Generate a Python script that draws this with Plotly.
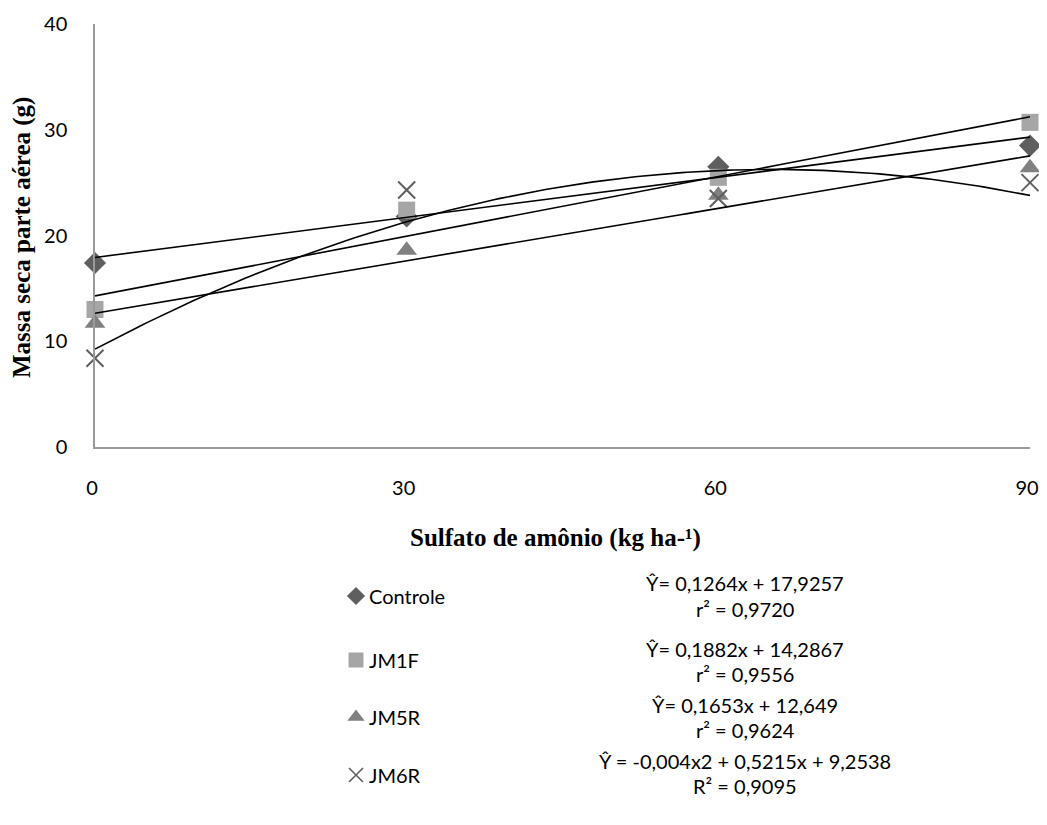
import numpy as np
import plotly.graph_objects as go

# ---- data ----
doses = [0, 30, 60, 90]
controle = [17.4, 21.8, 26.5, 28.5]
jm1f = [13.0, 22.4, 25.5, 30.7]
jm5r = [11.7, 18.6, 23.8, 26.4]
jm6r = [8.4, 24.3, 23.5, 25.0]

series_names = ["Controle", "JM1F", "JM5R", "JM6R"]
# trend line coefficients (a2, a1, a0)
coefs = [(0.0, 0.1264, 17.9257), (0.0, 0.1882, 14.2867), (0.0, 0.1653, 12.649), (-0.004, 0.5215, 9.2538)]
equations = ["Ŷ= 0,1264x + 17,9257", "Ŷ= 0,1882x + 14,2867", "Ŷ= 0,1653x + 12,649", "Ŷ = -0,004x2 + 0,5215x + 9,2538"]
r2_labels = ["r² = 0,9720", "r² = 0,9556", "r² = 0,9624", "R² = 0,9095"]
x_ticks = [0, 30, 60, 90]
y_ticks = [0, 10, 20, 30, 40]

# ---- layout (page pixel coordinates; page body has an 8px margin) ----
OX, OY = 8, 8
W, H = 1047 - 2 * OX, 825 - 2 * OY
L, R, T, B = 95, 1030, 24, 447
FONT = "Lato"
SERIF = "Liberation Serif"
styles = [
    dict(symbol="diamond", color="#5f5f5f", size=17, line=dict(width=0)),
    dict(symbol="square", color="#a6a6a6", size=17, line=dict(width=0)),
    dict(symbol="triangle-up", color="#808080", size=18, line=dict(width=0)),
    dict(symbol="x-thin", color="#5f5f5f", size=17, line=dict(width=2, color="#5f5f5f")),
]
leg_styles = [
    dict(symbol="diamond", color="#5f5f5f", size=14, line=dict(width=0)),
    dict(symbol="square", color="#a6a6a6", size=15, line=dict(width=0)),
    dict(symbol="triangle-up", color="#808080", size=15, line=dict(width=0)),
    dict(symbol="x-thin", color="#5f5f5f", size=14, line=dict(width=1.6, color="#5f5f5f")),
]

fig = go.Figure()
all_vals = [controle, jm1f, jm5r, jm6r]
for name, vals, st in zip(series_names, all_vals, styles):
    fig.add_trace(go.Scatter(x=doses, y=vals, mode="markers", name=name, marker=st,
                             showlegend=False, cliponaxis=False))

xs = np.linspace(0, 90, 181)
for (a2, a1, a0) in coefs:
    fig.add_trace(go.Scatter(x=xs, y=a2 * xs**2 + a1 * xs + a0, mode="lines",
                             line=dict(color="black", width=1.6), showlegend=False,
                             hoverinfo="skip"))

# legend area via helper axis (page pixel coordinates)
leg_rows = [596, 660, 717, 775]
eq_rows = [583, 649, 705, 761]
r2_rows = [609, 674, 730, 786]
for name, y, st in zip(series_names, leg_rows, leg_styles):
    fig.add_trace(go.Scatter(x=[356], y=[y], mode="markers", marker=st, xaxis="x2", yaxis="y2",
                             showlegend=False, hoverinfo="skip", cliponaxis=False))

annotations = []
for name, y in zip(series_names, leg_rows):
    annotations.append(dict(x=367, y=y, xref="x2", yref="y2", text=name, showarrow=False,
                            xanchor="left", yanchor="middle",
                            font=dict(family=FONT, size=20, color="black")))
for eq, r2, ye, yr in zip(equations, r2_labels, eq_rows, r2_rows):
    annotations.append(dict(x=745, y=ye, xref="x2", yref="y2", text=eq, showarrow=False,
                            xanchor="center", yanchor="middle",
                            font=dict(family=FONT, size=20, color="black")))
    annotations.append(dict(x=745, y=yr, xref="x2", yref="y2", text=r2, showarrow=False,
                            xanchor="center", yanchor="middle",
                            font=dict(family=FONT, size=20, color="black")))
# axis titles
annotations.append(dict(x=555, y=538, xref="x2", yref="y2", text="<b>Sulfato de amônio (kg ha-¹)</b>",
                        showarrow=False, xanchor="center", yanchor="middle",
                        font=dict(family=SERIF, size=25, color="black")))
annotations.append(dict(x=22, y=238, xref="x2", yref="y2", text="<b>Massa seca parte aérea (g)</b>",
                        showarrow=False, xanchor="center", yanchor="middle", textangle=-90,
                        font=dict(family=SERIF, size=25, color="black")))

fig.update_layout(
    width=W, height=H,
    margin=dict(l=0, r=0, t=0, b=0, autoexpand=False),
    paper_bgcolor="white", plot_bgcolor="rgba(0,0,0,0)",
    showlegend=False,
    annotations=annotations,
    xaxis=dict(range=[0, 90], domain=[(L - OX) / W, (R - OX) / W], tickvals=x_ticks,
               ticktext=[str(v) for v in x_ticks],
               showgrid=False, zeroline=False, showline=True, linecolor="#9a9a9a", linewidth=1.5,
               ticks="", ticklabelstandoff=22, ticklabelshift=-3,
               tickfont=dict(family=FONT, size=20, color="black"),
               anchor="y", automargin=False),
    yaxis=dict(range=[0, 40], domain=[(OY + H - B) / H, (OY + H - T) / H], tickvals=y_ticks,
               showgrid=False, zeroline=False, showline=True, linecolor="#9a9a9a", linewidth=1.5,
               ticks="", ticklabelstandoff=22, tickfont=dict(family=FONT, size=20, color="black"),
               anchor="x", automargin=False),
    xaxis2=dict(range=[OX, OX + W], domain=[0, 1], visible=False, anchor="y2", fixedrange=True,
                automargin=False),
    yaxis2=dict(range=[OY + H, OY], domain=[0, 1], visible=False, anchor="x2", fixedrange=True,
                automargin=False),
)

fig.write_html("out.html")
